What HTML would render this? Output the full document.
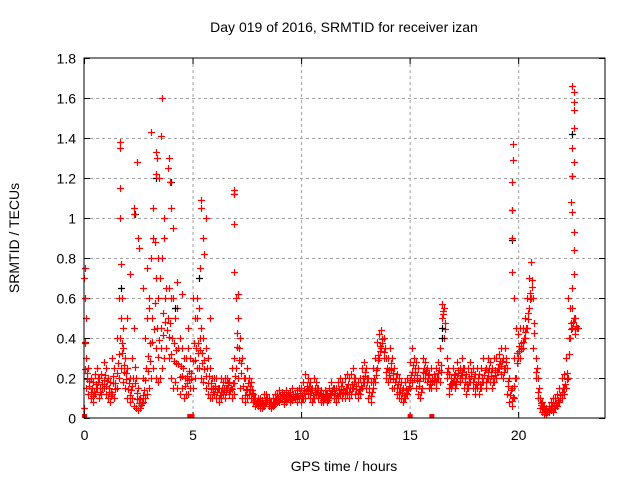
<!DOCTYPE html>
<html><head><meta charset="utf-8"><style>
body{margin:0;background:#fff;width:640px;height:480px;overflow:hidden}
svg{font-family:"Liberation Sans",sans-serif;font-size:14px}
</style></head><body>
<svg id="c" width="640" height="480">
<text x="344" y="32" text-anchor="middle">Day 019 of 2016, SRMTID for receiver izan</text>
<text x="344" y="471" text-anchor="middle">GPS time / hours</text>
<text transform="translate(19,238) rotate(-90)" text-anchor="middle">SRMTID / TECUs</text>
<g id="grid"></g><g id="ticks"></g><g id="marks"></g>
<rect x="84" y="58" width="521" height="360" fill="none" stroke="#000" stroke-width="1"/>
</svg>
<script>
const xTicks=[0,5,10,15,20];
const yTicks=[0,0.2,0.4,0.6,0.8,1,1.2,1.4,1.6,1.8];
const yTickLabels=["0","0.2","0.4","0.6","0.8","1","1.2","1.4","1.6","1.8"];
const baseStart=0, baseStep=0.1;
const baseLow=[.05,.15,.12,.1,.08,.12,.15,.1,.12,.15,.12,.1,.08,.12,.1,.15,.2,.25,.18,.15,.1,.08,.1,.06,.05,.04,.05,.08,.1,.12,.15,.2,.25,.2,.18,.2,.25,.3,.35,.3,.2,.15,.18,.15,.12,.15,.1,.12,.12,.15,.15,.2,.25,.25,.2,.18,.15,.12,.1,.1,.12,.1,.08,.1,.12,.1,.15,.12,.1,.12,.25,.2,.15,.1,.08,.1,.12,.1,.08,.06,.06,.05,.05,.06,.08,.06,.05,.06,.07,.08,.08,.1,.07,.08,.1,.08,.09,.1,.08,.1,.08,.1,.1,.12,.1,.08,.1,.12,.1,.08,.08,.1,.08,.1,.12,.1,.08,.1,.12,.1,.1,.12,.1,.12,.15,.12,.1,.12,.15,.18,.15,.1,.08,.15,.18,.25,.3,.35,.3,.2,.18,.2,.15,.15,.12,.1,.1,.08,.1,.12,.15,.18,.2,.15,.12,.1,.2,.2,.18,.15,.15,.18,.15,.2,.18,.5,.4,.2,.12,.15,.18,.15,.2,.18,.2,.15,.12,.15,.18,.15,.12,.15,.12,.15,.18,.15,.2,.18,.15,.18,.2,.25,.22,.2,.25,.12,.08,.06,.1,.2,.3,.3,.35,.4,.45,.55,.6,.35,.2,.1,.05,.03,.02,.02,.03,.04,.03,.05,.06,.08,.1,.12,.15,.2,.4,.45,.42,.45];
const baseHigh=[.7,.3,.25,.2,.18,.22,.25,.2,.22,.28,.25,.2,.18,.3,.25,.4,.6,.5,.35,.3,.25,.2,.3,.45,.2,.15,.1,.2,.4,.5,.6,.8,.9,.7,.6,.7,.8,.9,.65,.65,.6,.6,.5,.55,.4,.35,.3,.3,.35,.3,.6,.5,.5,.55,.45,.4,.35,.3,.25,.2,.2,.2,.15,.2,.18,.2,.2,.18,.25,.3,.6,.5,.4,.3,.2,.25,.2,.18,.12,.1,.1,.1,.09,.12,.12,.1,.08,.1,.12,.12,.14,.13,.12,.14,.12,.13,.15,.12,.14,.15,.15,.18,.22,.2,.18,.15,.2,.18,.15,.14,.12,.14,.12,.15,.18,.15,.15,.18,.2,.18,.2,.22,.2,.22,.25,.2,.18,.2,.25,.28,.25,.2,.18,.25,.3,.38,.42,.44,.4,.3,.3,.35,.3,.25,.22,.2,.18,.15,.18,.2,.28,.35,.3,.28,.25,.2,.3,.28,.25,.22,.25,.22,.25,.28,.35,.57,.55,.3,.22,.2,.25,.22,.28,.25,.3,.25,.22,.25,.28,.25,.22,.25,.22,.25,.3,.25,.3,.28,.25,.3,.3,.32,.35,.3,.35,.25,.2,.15,.3,.45,.42,.45,.45,.5,.6,.7,.78,.6,.3,.2,.1,.08,.06,.05,.06,.08,.1,.1,.12,.15,.2,.22,.3,.6,.55,.55,.5,.45];
const spikeT=[0.05,0.05,0.1,0.05,1.65,1.65,1.65,1.65,1.7,1.75,2.3,2.3,2.45,2.5,2.55,2.1,2.0,3.1,3.55,3.6,3.3,3.35,3.3,3.45,3.9,3.85,3.95,4.0,4.1,3.2,3.25,3.7,5.4,5.4,5.6,5.5,5.55,5.35,6.9,6.9,6.9,6.9,7.1,19.75,19.75,19.7,19.7,19.7,19.7,19.8,22.5,22.55,22.55,22.55,22.55,22.5,22.55,22.5,22.45,22.5,22.55,22.55,22.55,22.5,1.8,2.7,2.9,3.4,4.3,4.5,5.2,5.8,4.8,3.0];
const spikeV=[0.75,0.6,0.5,0.38,1.38,1.35,1.15,1.0,0.77,0.6,1.05,1.02,1.28,0.9,0.85,0.72,0.5,1.43,1.41,1.6,1.33,1.3,1.22,1.2,1.3,1.25,1.18,1.05,0.95,1.05,0.88,1.0,1.09,1.05,1.0,0.9,0.82,0.75,1.14,1.12,0.97,0.73,0.62,1.37,1.29,1.18,1.04,0.9,0.73,0.6,1.66,1.63,1.58,1.54,1.45,1.35,1.28,1.21,1.08,1.03,0.93,0.84,0.72,0.65,0.45,0.65,0.75,0.8,0.68,0.62,0.6,0.5,0.45,0.55];
const blackT=[22.5,22.5,19.7,19.7,6.9,2.35,4.0,1.7,16.5,16.5,3.3,5.3,4.2];
const blackV=[1.42,1.21,1.04,0.89,1.12,1.02,1.18,0.65,0.45,0.4,1.2,0.7,0.55];
const flagT=[0,4.85,4.95,15,16];

const X0=84,X1=605,Y0=418,Y1=58,XMAX=24,YMAX=1.8;
const sx=t=>X0+t/XMAX*(X1-X0), sy=v=>Y0-v/YMAX*(Y0-Y1);
const NS="http://www.w3.org/2000/svg";
const mk=(p,tag,a)=>{const e=document.createElementNS(NS,tag);for(const k in a)e.setAttribute(k,a[k]);p.appendChild(e);return e;};
const grid=document.getElementById('grid'),ticks=document.getElementById('ticks'),marks=document.getElementById('marks');
xTicks.forEach(t=>{const x=sx(t)+0.5;
 if(t>0){const g=mk(grid,'line',{x1:x,x2:x,y1:Y1,y2:Y0,stroke:'#a0a0a0','stroke-dasharray':'3,3'});
 
 }
 mk(ticks,'line',{x1:x,x2:x,y1:Y0,y2:Y0-6,stroke:'#000'});mk(ticks,'line',{x1:x,x2:x,y1:Y1,y2:Y1+6,stroke:'#000'});
 const l=mk(ticks,'text',{x:x,y:Y0+22,'text-anchor':'middle'});l.textContent=t;
 
 });
yTicks.forEach((v,i)=>{const y=Math.round(sy(v))+0.5;
 if(v>0&&v<YMAX){const g=mk(grid,'line',{x1:X0,x2:X1,y1:y,y2:y,stroke:'#a0a0a0','stroke-dasharray':'3,3'});
 
 }
 mk(ticks,'line',{x1:X0,x2:X0+6,y1:y,y2:y,stroke:'#000'});mk(ticks,'line',{x1:X1,x2:X1-6,y1:y,y2:y,stroke:'#000'});
 const l=mk(ticks,'text',{x:X0-8,y:y+5,'text-anchor':'end'});l.textContent=yTickLabels[i];
 
 });
function plus(t,v,col,name){const x=Math.round(sx(t))+0.5,y=Math.round(sy(v))+0.5;
 const p=mk(marks,'path',{d:`M${x-3.5} ${y}h7M${x} ${y-3.5}v7`,stroke:col,'stroke-width':1.2,fill:'none'});
 
 }
baseLow.forEach((v,i)=>{const t=baseStart+i*baseStep;plus(t,v,'#f00','srmtid-point');plus(t+0.05,(v+baseHigh[i])/2,'#f00','srmtid-point');plus(t+0.03,v*0.7+baseHigh[i]*0.3,'#f00','srmtid-point');});
baseHigh.forEach((v,i)=>plus(baseStart+i*baseStep,v,'#f00','srmtid-point'));
blackT.forEach((t,i)=>plus(t,blackV[i],'#000','srmtid-black-point'));
spikeT.forEach((t,i)=>plus(t,spikeV[i],'#f00','srmtid-spike-point'));
flagT.forEach(t=>{const r=mk(marks,'rect',{x:sx(t)-2,y:Y0-4,width:5,height:4,fill:'#f00'});
 
 });
</script>
</body></html>
